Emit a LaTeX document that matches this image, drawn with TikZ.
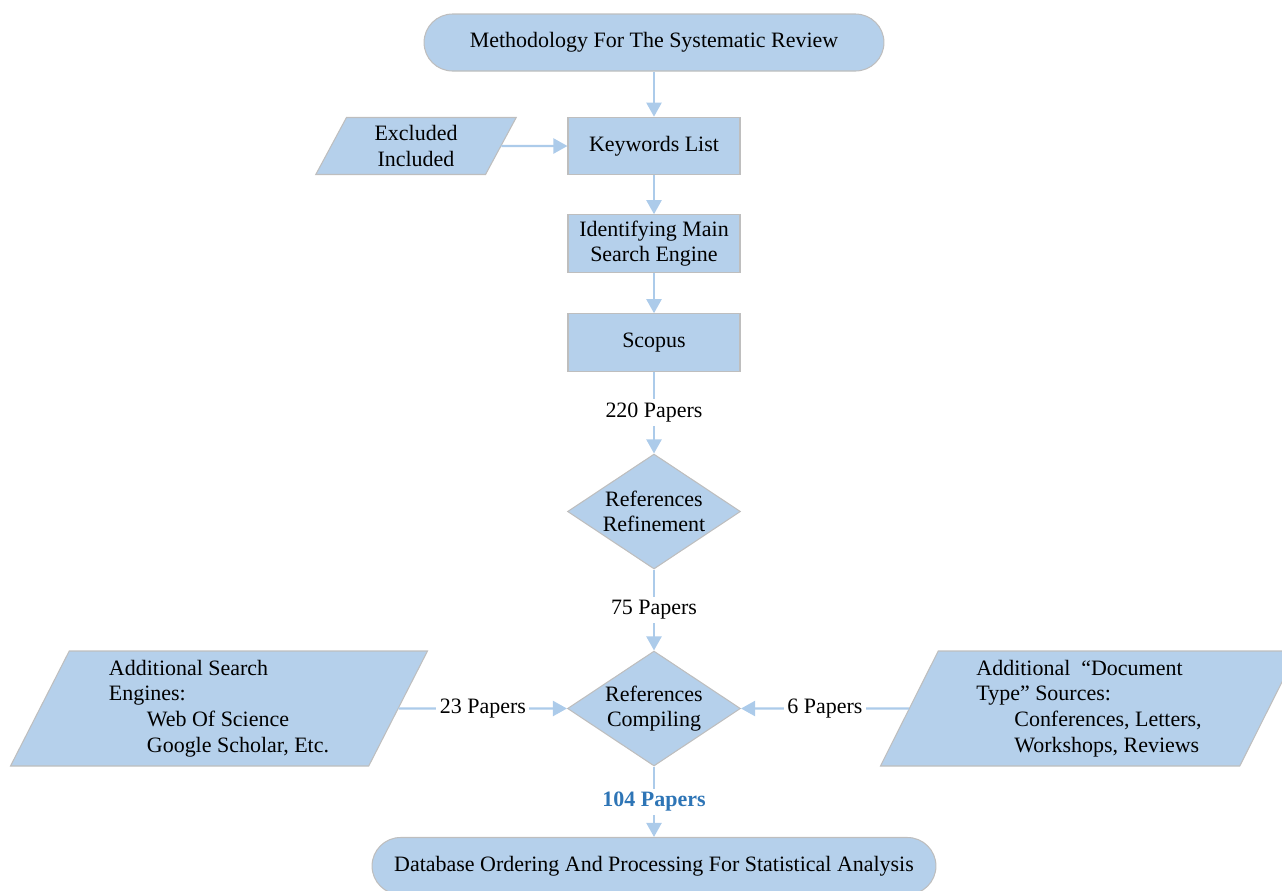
\documentclass[tikz,border=0pt]{standalone}
\usepackage{fontspec}
\setmainfont{Liberation Serif}
\usetikzlibrary{shapes.geometric,arrows.meta}
\definecolor{boxblue}{RGB}{181,208,235}
\definecolor{linkblue}{RGB}{172,203,234}
\definecolor{edgegray}{RGB}{190,190,190}
\definecolor{countblue}{RGB}{46,117,182}
\tikzset{
  base/.style={fill=boxblue, draw=edgegray, line width=0.6pt, font=\fontsize{12.5}{14.6}\selectfont, inner sep=0pt, align=center},
  terminal/.style={base, rounded corners=0.57cm, minimum height=1.14cm},
  process/.style={base, minimum width=3.44cm, minimum height=1.15cm},
  decision/.style={base, diamond, minimum width=3.46cm, minimum height=2.3cm, aspect=1.5},
  inout/.style={base, trapezium, trapezium left angle=66, trapezium right angle=114, trapezium stretches=true, align=left},
  link/.style={draw=linkblue, line width=1.4pt, -{Triangle[length=8pt,width=8.5pt]}},
  count/.style={fill=white, inner sep=2pt, font=\fontsize{12.5}{14}\selectfont},
}
\begin{document}
\begin{tikzpicture}[x=0.02cm, y=-0.02cm]
    \useasboundingbox (0,0) rectangle (1282,890);
    % main column
    \node[terminal, minimum width=9.2cm] (method) at (654,42.5) {Methodology For The Systematic Review};
    \node[process] (keywords) at (654,146) {Keywords List};
    \node[process] (engine) at (654,243.5) {Identifying Main\\Search Engine};
    \node[process] (scopus) at (654,342.5) {Scopus};
    \node[decision] (refine) at (654,511.5) {References\\Refinement};
    \node[decision] (compile) at (654,708.5) {References\\Compiling};
    \node[terminal, minimum width=11.28cm] (database) at (654,866) {Database Ordering And Processing For Statistical Analysis};
    % side inputs
    \node[inout, minimum width=4.04cm, minimum height=1.14cm, align=center] (inclusion) at (416,146) {Excluded\\Included};
    \node[inout, minimum width=8.36cm, minimum height=2.3cm] (engines) at (219,708.5) {Additional Search\\Engines:\\\hspace*{21.6pt}Web Of Science\\\hspace*{21.6pt}Google Scholar, Etc.};
    \node[inout, minimum width=8.36cm, minimum height=2.3cm] (doctypes) at (1089,708.5) {Additional~~“Document\\Type” Sources:\\\hspace*{21.6pt}Conferences, Letters,\\\hspace*{21.6pt}Workshops, Reviews};
    % connectors
    \draw[link] (method) -- (keywords);
    \draw[link] (inclusion) -- (keywords);
    \draw[link] (keywords) -- (engine);
    \draw[link] (engine) -- (scopus);
    \draw[link] (scopus) -- node[count] {220 Papers} (refine);
    \draw[link] (refine) -- node[count] {75 Papers} (compile);
    \draw[link] (engines) -- node[count] {23 Papers} (compile);
    \draw[link] (doctypes) -- node[count] {6 Papers} (compile);
    \draw[link] (compile) -- node[count, text=countblue, font=\fontsize{12.5}{14}\selectfont\bfseries] {104 Papers} (database);
\end{tikzpicture}
\end{document}
